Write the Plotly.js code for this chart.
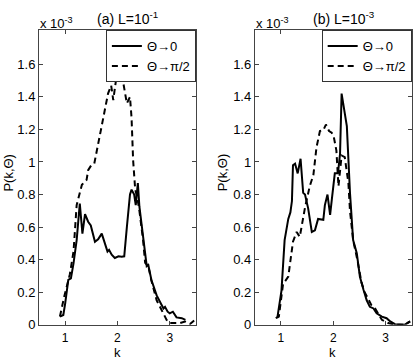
<!DOCTYPE html>
<html>
<head>
<meta charset="utf-8">
<script src="https://cdn.plot.ly/plotly-3.0.1.min.js"></script>
<style>
  html, body { margin: 0; padding: 0; background: #fff; }
  #plot { width: 415px; height: 359px; }
</style>
</head>
<body>
<div id="plot"></div>
<script>
// values in units of 1e-3 (axis carries the "x 10^-3" multiplier)
var aSolidK = [0.90, 0.965, 1.0, 1.06, 1.11, 1.16, 1.22, 1.265, 1.28, 1.33, 1.38, 1.44, 1.49, 1.57, 1.63, 1.70, 1.76, 1.81, 1.84, 1.89, 1.95, 2.02, 2.08, 2.13, 2.18, 2.24, 2.27, 2.32, 2.35, 2.39, 2.42, 2.49, 2.56, 2.59, 2.65, 2.75, 2.81, 2.88, 2.91, 2.96, 3.0, 3.06, 3.13, 3.23, 3.30];
var aSolidP = [0.05, 0.06, 0.13, 0.275, 0.285, 0.377, 0.52, 0.66, 0.745, 0.56, 0.68, 0.633, 0.61, 0.51, 0.525, 0.56, 0.50, 0.45, 0.46, 0.43, 0.41, 0.42, 0.418, 0.42, 0.60, 0.80, 0.83, 0.80, 0.735, 0.87, 0.725, 0.54, 0.36, 0.367, 0.275, 0.18, 0.14, 0.10, 0.11, 0.08, 0.07, 0.08, 0.045, 0.04, 0.03];

var aDashK = [0.90, 0.98, 1.09, 1.16, 1.22, 1.32, 1.41, 1.44, 1.50, 1.557, 1.60, 1.67, 1.76, 1.82, 1.88, 1.92, 1.99, 2.04, 2.08, 2.13, 2.18, 2.24, 2.27, 2.30, 2.34, 2.38, 2.42, 2.49, 2.53, 2.59, 2.65, 2.75, 2.81, 2.88, 2.94, 3.0, 3.1, 3.2, 3.29, 3.39, 3.48];
var aDashP = [0.05, 0.17, 0.31, 0.45, 0.735, 0.86, 0.89, 0.95, 0.98, 0.99, 1.06, 1.18, 1.32, 1.42, 1.47, 1.38, 1.545, 1.56, 1.545, 1.45, 1.36, 1.40, 1.27, 1.01, 0.83, 0.78, 0.70, 0.52, 0.38, 0.36, 0.27, 0.15, 0.11, 0.07, 0.03, 0.01, 0.01, 0.01, 0.02, 0.005, 0.03];

var bSolidK = [0.93, 1.01, 1.07, 1.14, 1.18, 1.21, 1.23, 1.27, 1.32, 1.375, 1.425, 1.46, 1.52, 1.59, 1.65, 1.71, 1.81, 1.84, 1.89, 1.94, 1.98, 2.03, 2.09, 2.13, 2.16, 2.26, 2.32, 2.38, 2.45, 2.51, 2.58, 2.64, 2.70, 2.77, 2.83, 2.93, 3.02, 3.09, 3.18, 3.37, 3.47];
var bSolidP = [0.04, 0.21, 0.52, 0.65, 0.69, 0.76, 0.98, 0.99, 0.93, 1.02, 0.81, 0.80, 0.715, 0.57, 0.58, 0.65, 0.645, 0.735, 0.80, 0.675, 0.79, 0.93, 0.93, 1.05, 1.42, 1.22, 0.81, 0.52, 0.44, 0.295, 0.213, 0.15, 0.11, 0.10, 0.07, 0.05, 0.04, 0.02, 0.003, 0.0, 0.02];

var bDashK = [0.90, 0.96, 1.04, 1.14, 1.23, 1.30, 1.36, 1.46, 1.55, 1.62, 1.68, 1.745, 1.81, 1.86, 1.92, 1.97, 2.01, 2.06, 2.10, 2.16, 2.22, 2.29, 2.32, 2.38, 2.46, 2.54, 2.60, 2.67, 2.73, 2.80, 2.87, 2.93, 3.05, 3.18, 3.37, 3.47];
var bDashP = [0.04, 0.05, 0.25, 0.295, 0.51, 0.57, 0.54, 0.72, 0.85, 0.92, 1.09, 1.19, 1.195, 1.23, 1.19, 1.18, 1.155, 1.07, 0.85, 1.04, 1.03, 0.87, 0.70, 0.52, 0.40, 0.26, 0.20, 0.16, 0.12, 0.10, 0.06, 0.03, 0.01, 0.0, 0.0, 0.02];

var legendNames = ['\u0398\u21920', '\u0398\u2192\u03c0/2'];
var yTicks = [0, 0.2, 0.4, 0.6, 0.8, 1, 1.2, 1.4, 1.6];
var xTicks = [1, 2, 3];

var fnt = 'Liberation Sans, Arial, Helvetica, sans-serif';

var data = [
  { x: aSolidK, y: aSolidP, type: 'scatter', mode: 'lines', name: legendNames[0],
    line: {color: 'black', width: 2}, xaxis: 'x', yaxis: 'y', legend: 'legend' },
  { x: aDashK, y: aDashP, type: 'scatter', mode: 'lines', name: legendNames[1],
    line: {color: 'black', width: 2, dash: '6px,4px'}, xaxis: 'x', yaxis: 'y', legend: 'legend' },
  { x: bSolidK, y: bSolidP, type: 'scatter', mode: 'lines', name: legendNames[0],
    line: {color: 'black', width: 2}, xaxis: 'x2', yaxis: 'y2', legend: 'legend2' },
  { x: bDashK, y: bDashP, type: 'scatter', mode: 'lines', name: legendNames[1],
    line: {color: 'black', width: 2, dash: '6px,4px'}, xaxis: 'x2', yaxis: 'y2', legend: 'legend2' }
];

function xax(dom, anchor) {
  return {
    domain: dom, anchor: anchor, range: [0.5, 3.5],
    tickvals: xTicks, ticks: 'inside', ticklen: 4, tickcolor: '#444',
    ticklabelstandoff: 2,
    showline: true, linecolor: '#444', linewidth: 1, mirror: 'ticks',
    showgrid: false, zeroline: false,
    tickfont: {family: fnt, size: 12, color: 'black'}
  };
}
function yax(dom, anchor) {
  return {
    domain: dom, anchor: anchor, range: [0, 1.81],
    tickvals: yTicks, ticks: 'inside', ticklen: 4, tickcolor: '#444',
    showline: true, linecolor: '#444', linewidth: 1, mirror: 'ticks',
    showgrid: false, zeroline: false,
    tickfont: {family: fnt, size: 13, color: 'black'}
  };
}
function leg(xr) {
  return {
    x: xr, xanchor: 'right', y: 0.916, yanchor: 'top',
    bgcolor: 'white', bordercolor: '#333', borderwidth: 1,
    font: {family: fnt, size: 13, color: 'black'},
    itemwidth: 30, tracegroupgap: 0
  };
}
function ann(text, x, y, size, xanchor, angle) {
  return {
    text: text, x: x, y: y, xref: 'paper', yref: 'paper',
    xanchor: xanchor || 'center', yanchor: 'middle', showarrow: false,
    textangle: angle || 0, font: {family: fnt, size: size, color: 'black'}
  };
}

var layout = {
  width: 415, height: 359,
  margin: {l: 0, r: 0, t: 0, b: 0},
  paper_bgcolor: 'white', plot_bgcolor: 'white',
  showlegend: true,
  xaxis: xax([0.094, 0.472], 'y'),
  yaxis: yax([0.0955, 0.916], 'x'),
  xaxis2: xax([0.614, 0.992], 'y2'),
  yaxis2: yax([0.0955, 0.916], 'x2'),
  legend: leg(0.472),
  legend2: leg(0.992),
  annotations: [
    ann('(a) L=10<sup>-1</sup>', 0.308, 0.95, 14),
    ann('(b) L=10<sup>-3</sup>', 0.83, 0.95, 14),
    ann('x 10<sup>-3</sup>', 0.091, 0.937, 13, 'left'),
    ann('x 10<sup>-3</sup>', 0.611, 0.937, 13, 'left'),
    ann('P(k,\u0398)', 0.02, 0.52, 13, 'center', -90),
    ann('P(k,\u0398)', 0.535, 0.52, 13, 'center', -90),
    ann('k', 0.282, 0.018, 13),
    ann('k', 0.802, 0.018, 13)
  ]
};

Plotly.newPlot('plot', data, layout, {staticPlot: true});
</script>
</body>
</html>
